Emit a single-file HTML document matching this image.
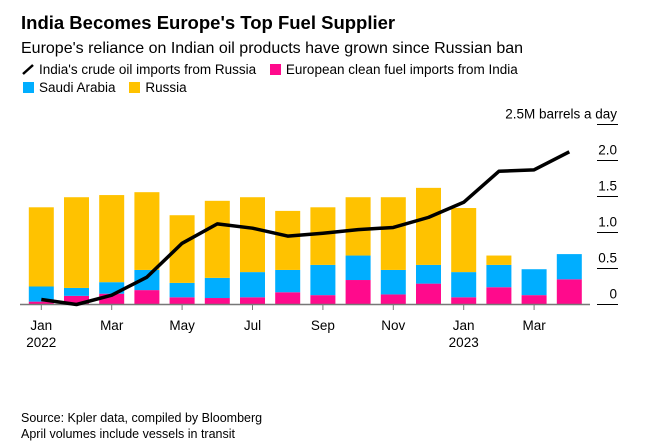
<!DOCTYPE html>
<html><head><meta charset="utf-8"><style>
body{margin:0;background:#fff;font-family:"Liberation Sans",sans-serif;}
#wrap{position:relative;width:647px;height:448px;overflow:hidden;}
.t{position:absolute;white-space:nowrap;color:#000;}
.sw{display:inline-block;width:11px;height:11px;margin-right:5px;vertical-align:-1px;}
</style></head><body>
<div id="wrap">
<div class="t" style="left:21px;top:12px;font-size:18.5px;font-weight:bold;">India Becomes Europe's Top Fuel Supplier</div>
<div class="t" style="left:21px;top:40px;font-size:16px;">Europe's reliance on Indian oil products have grown since Russian ban</div>
<div class="t" style="left:21px;top:62px;font-size:13.5px;">
<span><svg width="14" height="12" style="vertical-align:-1px;margin-right:4px"><line x1="2" y1="11" x2="12" y2="2" stroke="#000" stroke-width="2.5"/></svg>India's crude oil imports from Russia</span>
<span style="margin-left:10px"><span class="sw" style="background:#ff0a8c"></span>European clean fuel imports from India</span>
</div>
<div class="t" style="left:23px;top:80px;font-size:13.5px;">
<span><span class="sw" style="background:#00aeff"></span>Saudi Arabia</span>
<span style="margin-left:10px"><span class="sw" style="background:#ffc200"></span>Russia</span>
</div>
<svg id="chart" width="647" height="448" style="position:absolute;left:0;top:0"></svg>
<div class="t" style="left:21px;top:411px;font-size:12.5px;">Source: Kpler data, compiled by Bloomberg</div>
<div class="t" style="left:21px;top:427px;font-size:12.5px;">April volumes include vessels in transit</div>
</div>
<script>
const months=["Jan","Feb","Mar","Apr","May","Jun","Jul","Aug","Sep","Oct","Nov","Dec","Jan","Feb","Mar","Apr"];
const years=["2022","","","","","","","","","","","","2023","","",""];
const india=[0.04,0.12,0.15,0.20,0.10,0.09,0.10,0.17,0.13,0.34,0.14,0.29,0.10,0.24,0.13,0.35];
const saudi=[0.21,0.11,0.16,0.28,0.20,0.28,0.35,0.31,0.42,0.34,0.34,0.26,0.35,0.31,0.36,0.35];
const russia=[1.10,1.26,1.21,1.08,0.94,1.07,1.04,0.82,0.80,0.81,1.01,1.07,0.89,0.13,0,0];
const crude=[0.07,0.0,0.13,0.38,0.85,1.12,1.06,0.95,0.99,1.04,1.07,1.21,1.42,1.85,1.87,2.12];
const yTicks=[0,0.5,1.0,1.5,2.0,2.5];
const yTickLabels=["0","0.5","1.0","1.5","2.0","2.5M barrels a day"];
const NS="http://www.w3.org/2000/svg";
const svg=document.getElementById("chart");
const x=i=>41.3+i*35.2;
const y=v=>304.5-v*72;
function el(t,a){const e=document.createElementNS(NS,t);for(const k in a)e.setAttribute(k,a[k]);svg.appendChild(e);return e;}
yTicks.forEach((v,i)=>{
 const l=el("line",{x1:597,x2:618,y1:y(v),y2:y(v),stroke:"#000","stroke-width":1});
 
 
 const t=el("text",{x:617,y:y(v)-6,"text-anchor":"end","font-size":13.5,"font-family":"Liberation Sans, sans-serif",fill:"#000"});
 t.textContent=yTickLabels[i];
 
 
});
months.forEach((m,i)=>{
 const segs=[[india[i],"#ff0a8c"],[saudi[i],"#00aeff"],[russia[i],"#ffc200"]];
 let base=0;
 segs.forEach((s,j)=>{
  if(s[0]<=0)return;
  const r=el("rect",{x:x(i)-12.5,width:25,y:y(base+s[0]),height:y(base)-y(base+s[0]),fill:s[1]});
  
  
  base+=s[0];
 });
});
const ax=el("line",{x1:20,x2:590,y1:304.5,y2:304.5,stroke:"#777","stroke-width":1.5});


months.forEach((m,i)=>{
 if(i%2)return;
 const tk=el("line",{x1:x(i),x2:x(i),y1:305,y2:310,stroke:"#777","stroke-width":1});
 
 
 const t=el("text",{x:x(i),y:330,"text-anchor":"middle","font-size":13.5,"font-family":"Liberation Sans, sans-serif",fill:"#000"});
 t.textContent=m;
 
 
 if(years[i]){
  const yt=el("text",{x:x(i),y:347,"text-anchor":"middle","font-size":13.5,"font-family":"Liberation Sans, sans-serif",fill:"#000"});
  yt.textContent=years[i];
  
  
 }
});
const p=el("polyline",{points:crude.map((v,i)=>x(i)+","+y(v)).join(" "),fill:"none",stroke:"#000","stroke-width":3.5,"stroke-linejoin":"round"});


</script>
</body></html>
